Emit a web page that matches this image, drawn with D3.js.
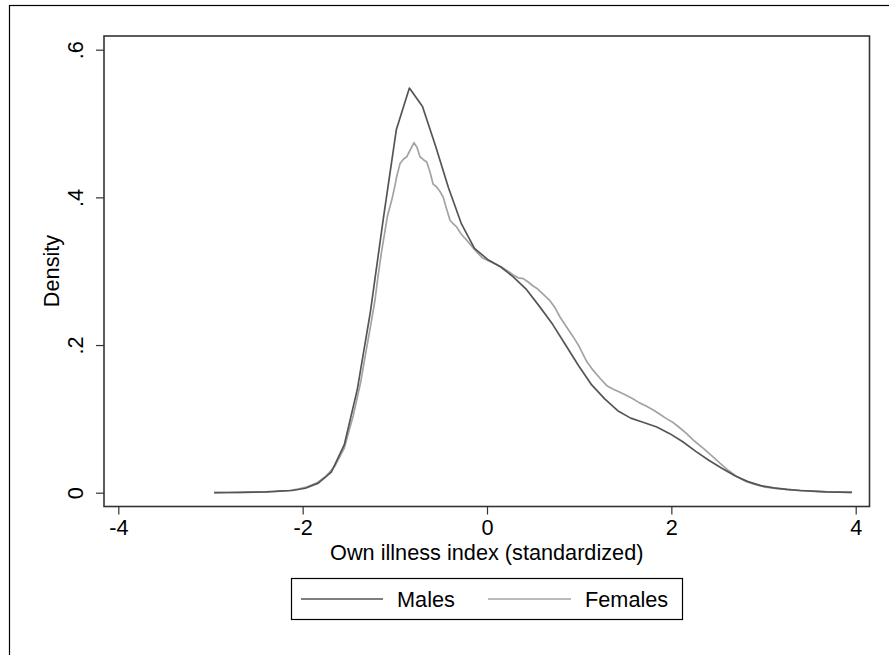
<!DOCTYPE html>
<html>
<head>
<meta charset="utf-8">
<script src="https://cdn.jsdelivr.net/npm/d3@7"></script>
<style>
  html, body { margin: 0; padding: 0; background: #fff; }
  svg { display: block; }
  text { font-family: "Liberation Sans", Arial, Helvetica, sans-serif; fill: #000; }
</style>
</head>
<body>
<svg id="chart" width="889" height="655"></svg>
<script>
// ---- data ----
const xTicks = [-4, -2, 0, 2, 4];
const yTicks = [0, 0.2, 0.4, 0.6];
const yTickLabels = ["0", ".2", ".4", ".6"];
const seriesNames = ["Males", "Females"];

const malesX = [-2.960, -2.819, -2.678, -2.536, -2.395, -2.254, -2.113, -1.971, -1.830, -1.689,
  -1.548, -1.407, -1.265, -1.124, -0.983, -0.842, -0.700, -0.559, -0.418, -0.277,
  -0.136, 0.006, 0.147, 0.288, 0.430, 0.571, 0.712, 0.853, 0.994, 1.136,
  1.277, 1.418, 1.559, 1.700, 1.842, 1.983, 2.124, 2.265, 2.406, 2.548,
  2.689, 2.830, 2.971, 3.112, 3.254, 3.395, 3.536, 3.677, 3.819, 3.960];
const malesY = [0.0000, 0.0003, 0.0005, 0.0008, 0.0012, 0.0020, 0.0030, 0.0060, 0.0130, 0.0280,
  0.0650, 0.1400, 0.2450, 0.3720, 0.4920, 0.5480, 0.5230, 0.4700, 0.4130, 0.3640,
  0.3310, 0.3160, 0.3060, 0.2920, 0.2750, 0.2520, 0.2280, 0.2000, 0.1720, 0.1460,
  0.1270, 0.1110, 0.1010, 0.0950, 0.0890, 0.0800, 0.0690, 0.0560, 0.0440, 0.0330,
  0.0230, 0.0150, 0.0095, 0.0065, 0.0045, 0.0030, 0.0020, 0.0012, 0.0008, 0.0004];

const femalesX = [-2.96, -2.7, -2.5, -2.3, -2.15, -2.05, -1.95, -1.85, -1.75, -1.65,
  -1.55, -1.45, -1.37, -1.31, -1.26, -1.215, -1.18, -1.142, -1.081, -1.034,
  -1.0, -0.98, -0.943, -0.905, -0.871, -0.83, -0.792, -0.76, -0.727, -0.69,
  -0.654, -0.62, -0.585, -0.546, -0.51, -0.474, -0.44, -0.401, -0.365, -0.33,
  -0.29, -0.257, -0.22, -0.18, -0.112, -0.05, 0.033, 0.1, 0.177, 0.24,
  0.285, 0.34, 0.394, 0.45, 0.5, 0.539, 0.6, 0.683, 0.74, 0.792,
  0.86, 0.936, 1.0, 1.081, 1.15, 1.226, 1.3, 1.37, 1.443, 1.51,
  1.587, 1.65, 1.732, 1.804, 1.88, 1.95, 2.02, 2.09, 2.166, 2.25,
  2.347, 2.44, 2.527, 2.62, 2.708, 2.8, 2.888, 3.0, 3.15, 3.3,
  3.5, 3.7, 3.96];
const femalesY = [0.0000, 0.0003, 0.0008, 0.0016, 0.0030, 0.0050, 0.0080, 0.0130, 0.0220, 0.0360,
  0.0600, 0.1050, 0.1500, 0.1930, 0.2280, 0.2610, 0.2950, 0.3280, 0.3740, 0.3960,
  0.4150, 0.4280, 0.4460, 0.4520, 0.4550, 0.4650, 0.4740, 0.4680, 0.4550, 0.4510,
  0.4480, 0.4350, 0.4180, 0.4140, 0.4080, 0.4000, 0.3850, 0.3690, 0.3640, 0.3600,
  0.3520, 0.3470, 0.3420, 0.3360, 0.3260, 0.3180, 0.3130, 0.3090, 0.3040, 0.2990,
  0.2950, 0.2910, 0.2900, 0.2850, 0.2800, 0.2770, 0.2700, 0.2600, 0.2500, 0.2380,
  0.2250, 0.2110, 0.1980, 0.1780, 0.1660, 0.1550, 0.1450, 0.1400, 0.1360, 0.1320,
  0.1270, 0.1220, 0.1170, 0.1120, 0.1060, 0.1000, 0.0950, 0.0880, 0.0800, 0.0700,
  0.0600, 0.0500, 0.0400, 0.0300, 0.0220, 0.0160, 0.0120, 0.0080, 0.0055, 0.0038,
  0.0022, 0.0012, 0.0004];

const colors = { Males: "#555555", Females: "#a3a3a3" };

// ---- layout ----
const svg = d3.select("#chart");
const plot = { left: 104, right: 869.5, top: 36, bottom: 506.5 };

const x = d3.scaleLinear().domain([-4, 4]).range([118.3, 855.7]);
const y = d3.scaleLinear().domain([0, 0.6]).range([492.7, 49.7]);

// outer frame (extends beyond window on right/bottom)
svg.append("rect")
  .attr("x", 9.5).attr("y", 5.5).attr("width", 1000).attr("height", 1000)
  .attr("fill", "none").attr("stroke", "#000").attr("stroke-width", 1.2);

// plot region frame
svg.append("rect")
  .attr("x", plot.left).attr("y", plot.top)
  .attr("width", plot.right - plot.left).attr("height", plot.bottom - plot.top)
  .attr("fill", "#fff").attr("stroke", "#333").attr("stroke-width", 1.6);

// axes
const fontSize = "21.7px";
const xAxis = d3.axisBottom(x).tickValues(xTicks).tickSize(8).tickPadding(6)
  .tickFormat(d => d3.format("d")(d).replace("−", "-"));
const gx = svg.append("g").attr("transform", `translate(0,${plot.bottom})`).call(xAxis);
gx.select(".domain").remove();
gx.selectAll(".tick line").attr("stroke", "#333").attr("stroke-width", 1.2);
gx.selectAll(".tick text").attr("font-size", fontSize)
  .attr("font-family", "'Liberation Sans', Arial, sans-serif").attr("fill", "#000")
  .attr("dy", null).attr("y", 28.5);

const yAxis = d3.axisLeft(y).tickValues(yTicks).tickSize(8)
  .tickFormat((d, i) => yTickLabels[i]);
const gy = svg.append("g").attr("transform", `translate(${plot.left},0)`).call(yAxis);
gy.select(".domain").remove();
gy.selectAll(".tick line").attr("stroke", "#333").attr("stroke-width", 1.2);
gy.selectAll(".tick text")
  .attr("font-size", fontSize)
  .attr("font-family", "'Liberation Sans', Arial, sans-serif").attr("fill", "#000")
  .attr("x", null).attr("dy", null)
  .attr("text-anchor", "middle")
  .attr("transform", "translate(-21.5,0) rotate(-90)");

// axis titles
svg.append("text")
  .attr("x", (plot.left + plot.right) / 2).attr("y", 560)
  .attr("text-anchor", "middle").attr("font-size", fontSize)
  .text("Own illness index (standardized)");
svg.append("text")
  .attr("transform", `translate(58.5,${271}) rotate(-90)`)
  .attr("text-anchor", "middle").attr("font-size", fontSize)
  .text("Density");

// lines
const line = d3.line().x(d => x(d[0])).y(d => y(d[1]));
const males = malesX.map((v, i) => [v, malesY[i]]);
const females = femalesX.map((v, i) => [v, femalesY[i]]);

svg.append("path").datum(females)
  .attr("d", line).attr("fill", "none")
  .attr("stroke", colors.Females).attr("stroke-width", 1.7)
  .attr("stroke-linejoin", "round");
svg.append("path").datum(males)
  .attr("d", line).attr("fill", "none")
  .attr("stroke", colors.Males).attr("stroke-width", 1.7)
  .attr("stroke-linejoin", "round");

// legend
const lg = svg.append("g");
lg.append("rect").attr("x", 291.5).attr("y", 578.5).attr("width", 391).attr("height", 41)
  .attr("fill", "#fff").attr("stroke", "#000").attr("stroke-width", 1.2);
const legendItems = [
  { name: seriesNames[0], x1: 301, x2: 383, tx: 397 },
  { name: seriesNames[1], x1: 488, x2: 571, tx: 585 }
];
legendItems.forEach(it => {
  lg.append("line").attr("x1", it.x1).attr("x2", it.x2).attr("y1", 599).attr("y2", 599)
    .attr("stroke", colors[it.name]).attr("stroke-width", 1.7);
  lg.append("text").attr("x", it.tx).attr("y", 607.3).attr("font-size", fontSize).text(it.name);
});
</script>
</body>
</html>
